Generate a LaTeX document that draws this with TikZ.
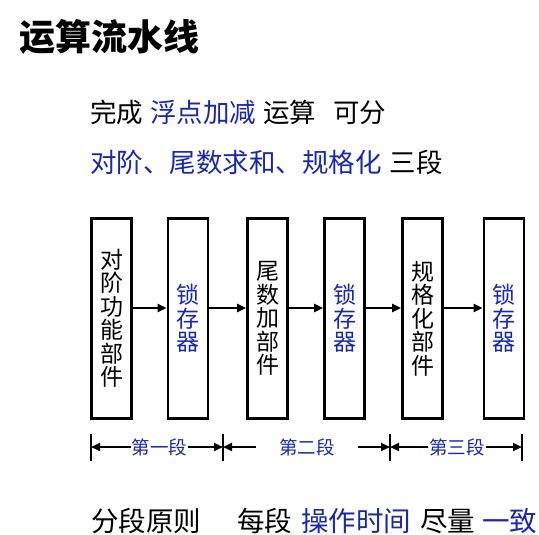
\documentclass[tikz,border=0pt]{standalone}
\usepackage{fontspec}
\newfontfamily\cjk{Noto Sans CJK SC}
\usetikzlibrary{arrows.meta}
\definecolor{myblue}{RGB}{25,40,170}
\begin{document}
\begin{tikzpicture}[x=1pt,y=-1pt,
  box/.style={draw=black,line width=2.8pt,minimum width=40pt,minimum height=200pt,inner sep=0pt,
    align=center,font=\cjk\fontsize{23}{23.5}\selectfont},
  arr/.style={line width=2.2pt,-{Triangle[length=9pt,width=8pt]}},
  seg/.style={font=\cjk\fontsize{18.5}{20}\selectfont,text=myblue,inner sep=1pt},
  tick/.style={line width=2.4pt},
  txt/.style={anchor=west,inner sep=0pt,font=\cjk\fontsize{26.5}{30}\selectfont}]
\useasboundingbox[fill=white] (0,0) rectangle (539,535);
% title
\node[anchor=west,inner sep=0pt,font=\cjk\bfseries\fontsize{36}{40}\selectfont] (title) at (19,37) {运算流水线};
% text lines
\node[txt] (l1) at (90,112) {完成\hspace{7pt}\textcolor{myblue}{浮点加减}\hspace{7pt}运算\hspace{17pt}可分};
\node[txt] (l2) at (90,162) {\textcolor{myblue}{对阶、尾数求和、规格化}\hspace{8pt}三段};
\node[txt,font=\cjk\fontsize{27.5}{30}\selectfont] (l3) at (91,521) {分段原则\hspace{36pt}每段\hspace{9pt}\textcolor{myblue}{操作时间}\hspace{9pt}尽量\hspace{7pt}\textcolor{myblue}{一致}};
% boxes
\node[box] (b1) at (111.5,318.5) {对\\阶\\功\\能\\部\\件};
\node[box,text=myblue] (b2) at (188,318.5) {锁\\存\\器};
\node[box] (b3) at (267.5,318.5) {尾\\数\\加\\部\\件};
\node[box,text=myblue] (b4) at (344.5,318.5) {锁\\存\\器};
\node[box] (b5) at (422.5,318.5) {规\\格\\化\\部\\件};
\node[box,text=myblue] (b6) at (504,318.5) {锁\\存\\器};
% arrows
\foreach \a/\b in {b1/b2,b2/b3,b3/b4,b4/b5,b5/b6}
  \draw[arr] ([yshift=10.5pt]\a.east) -- ([yshift=10.5pt]\b.west);
% segment ticks
\coordinate (t0) at (91,447);
\coordinate (t1) at (223,447);
\coordinate (t2) at (390,447);
\coordinate (t3) at (522,447);
\foreach \t in {t0,t1,t2,t3}
  \draw[tick] ([yshift=13.5pt]\t) -- ([yshift=-13.5pt]\t);
% segment labels
\node[seg] (s1) at (159.5,447) {第一段};
\node[seg] (s2) at (307,447) {第二段};
\node[seg] (s3) at (457,447) {第三段};
\coordinate (e2l) at (256,447);
\coordinate (e2r) at (358,447);
\draw[arr] (s1.west) -- (t0);
\draw[arr] (s1.east) -- (t1);
\draw[arr] (e2l) -- (t1);
\draw[arr] (e2r) -- (t2);
\draw[arr] (s3.west) -- (t2);
\draw[arr] (s3.east) -- (t3);
\end{tikzpicture}
\end{document}
